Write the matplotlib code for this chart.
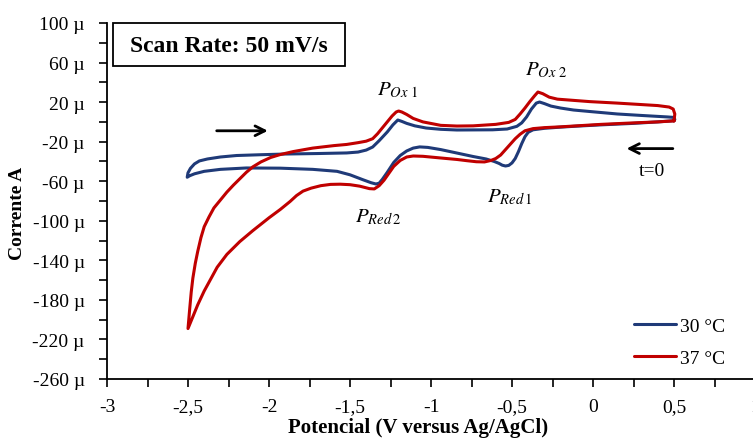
import matplotlib
matplotlib.use("Agg")
import matplotlib.pyplot as plt
from matplotlib.patches import Rectangle
from matplotlib.ticker import MultipleLocator, FixedLocator

plt.rcParams['font.family'] = ['Liberation Serif', 'DejaVu Serif']
plt.rcParams['mathtext.fontset'] = 'stix'

# Cyclic voltammograms; the sweep starts at +0.5 V (t=0) towards negative potentials
E_30 = [0.50, 0.40, 0.25, 0.05, -0.10, -0.20, -0.30, -0.37, -0.40, -0.42, -0.44, -0.46,
        -0.48, -0.50, -0.52, -0.54, -0.56, -0.58, -0.61, -0.66, -0.74, -0.84, -0.94, -1.02,
        -1.07, -1.11, -1.15, -1.19, -1.23, -1.27, -1.30, -1.32, -1.34, -1.37, -1.42, -1.50,
        -1.58, -1.73, -1.93, -2.14, -2.30, -2.40, -2.46, -2.49, -2.505,
        -2.50, -2.485, -2.46, -2.43, -2.38, -2.30, -2.20, -2.05, -1.90, -1.70, -1.52, -1.45,
        -1.40, -1.36, -1.32, -1.27, -1.235, -1.205, -1.18, -1.15, -1.10, -1.03, -0.94, -0.84,
        -0.62, -0.53, -0.47, -0.44, -0.41, -0.38, -0.35, -0.33, -0.30, -0.26, -0.20, -0.12,
        -0.02, 0.15, 0.30, 0.46, 0.50, 0.505, 0.50]
I_30 = [1.2, 0.0, -1.5, -3.0, -4.3, -5.3, -6.5, -8.0, -10.5, -15, -22, -30,
        -37, -41.5, -44, -44.6, -43.8, -42, -40, -37.5, -35, -31.5, -28, -25.8,
        -25.3, -26.5, -29.4, -34, -41, -51, -58, -62, -62.8, -61.5, -58.5, -53.5,
        -50, -48, -46.8, -46.6, -48, -50, -52.5, -54.5, -56,
        -51.5, -47, -42.5, -39.5, -37.5, -35.5, -34, -33.2, -32.5, -32, -31.4, -30.5,
        -28.5, -25.4, -19, -10.2, -3, 1.9, 0.5, -1.5, -4, -6.2, -7.5, -8.2,
        -8, -7.2, -4.5, -1, 5, 13, 19, 20.1, 18.5, 16, 14, 12,
        10.5, 8, 6.5, 5, 4.5, 2.5, 1.2]

E_37 = [0.50, 0.40, 0.25, 0.05, -0.10, -0.20, -0.30, -0.37, -0.42, -0.45, -0.48, -0.51,
        -0.54, -0.57, -0.60, -0.63, -0.67, -0.72, -0.78, -0.84, -0.94, -1.05, -1.11, -1.15,
        -1.19, -1.23, -1.26, -1.29, -1.32, -1.35, -1.38, -1.44, -1.50, -1.56, -1.62, -1.68,
        -1.74, -1.79, -1.83, -1.87, -1.93, -2.00, -2.10, -2.18, -2.26, -2.32, -2.36, -2.40,
        -2.44, -2.47, -2.50,
        -2.49, -2.48, -2.47, -2.455, -2.44, -2.42, -2.40, -2.37, -2.34, -2.30, -2.26, -2.22,
        -2.18, -2.14, -2.10, -2.05, -1.99, -1.93, -1.85, -1.73, -1.60, -1.52, -1.45, -1.40,
        -1.36, -1.33, -1.30, -1.27, -1.24, -1.215, -1.20, -1.18, -1.15, -1.11, -1.05, -0.94,
        -0.84, -0.74, -0.60, -0.52, -0.48, -0.45, -0.42, -0.39, -0.36, -0.34, -0.31, -0.27,
        -0.22, -0.10, -0.02, 0.15, 0.25, 0.40, 0.47, 0.495, 0.505, 0.50]
I_37 = [1.0, 0.0, -1.0, -2.5, -4.0, -5.0, -5.8, -6.8, -9, -12.5, -17, -22.5,
        -28, -33.5, -37, -39, -40.5, -40.3, -39.2, -38, -36.5, -34.8, -34.5, -35.5,
        -39, -45, -52, -59, -64.5, -67.8, -67.5, -65, -63.5, -63, -63.2, -64.5,
        -67, -70, -74.5, -80.5, -88.5, -97, -110, -121, -134, -147, -159, -171,
        -185, -197, -209,
        -190, -172, -158, -143, -131, -117, -106, -96, -87, -79, -71, -64,
        -57.5, -51, -45.5, -40.5, -36, -33, -30, -26.5, -24, -22.8, -21, -19.5,
        -17, -12, -6, 0, 6, 10, 11, 10, 7.5, 3.5, 0, -3.5,
        -4.2, -4, -2.5, -0.5, 2.5, 8, 14, 20.5, 26.5, 30.2, 28.5, 25,
        23, 21.5, 20.5, 19, 18, 16.5, 15, 13, 8, 1.0]

series_labels = ["30 °C", "37 °C"]
series_colors = ["#1f3a78", "#c00000"]

x_ticks = [-3, -2.5, -2, -1.5, -1, -0.5, 0, 0.5, 1]
x_ticklabels = ["-3", "-2,5", "-2", "-1,5", "-1", "-0,5", "0", "0,5", "1"]
y_ticks = [100, 60, 20, -20, -60, -100, -140, -180, -220, -260]
y_ticklabels = [f"{v} \u00b5" for v in y_ticks]

W, H = 753, 439
fig = plt.figure(figsize=(W / 100, H / 100), dpi=100)
ax = fig.add_axes([107 / W, (H - 380) / H, 648 / W, 356 / H])

for E, I, lab, col in ((E_30, I_30, series_labels[0], series_colors[0]),
                       (E_37, I_37, series_labels[1], series_colors[1])):
    ax.plot(E, I, color=col, lw=2.2, label=lab, solid_joinstyle='round',
            solid_capstyle='round')

ax.set_xlim(-3, 1)
ax.set_ylim(-260, 100)
ax.xaxis.set_major_locator(FixedLocator(x_ticks))
ax.set_xticklabels(x_ticklabels)
ax.xaxis.set_minor_locator(MultipleLocator(0.25))
ax.yaxis.set_major_locator(FixedLocator(y_ticks))
ax.set_yticklabels(y_ticklabels)
ax.yaxis.set_minor_locator(MultipleLocator(20))

for s in ("top", "right"):
    ax.spines[s].set_visible(False)
for s in ("left", "bottom"):
    ax.spines[s].set_linewidth(1.3)
ax.tick_params(axis="both", which="both", direction="out", length=6, width=1.2,
               labelsize=14)
ax.tick_params(axis="y", which="both", pad=10)
ax.tick_params(axis="x", which="both", pad=8)

fig.text(418 / W, 1 - 428 / H, "Potencial (V versus Ag/AgCl)", ha="center", va="center",
         fontsize=15, fontweight="bold")
fig.text(18 / W, 1 - 213 / H, "Corrente A", ha="center", va="center", rotation=90,
         fontsize=14, fontweight="bold")

# Scan-rate box
fig.patches.append(Rectangle((113 / W, 1 - 67 / H), 232 / W, 43 / H,
                             transform=fig.transFigure, fill=False, ec="black", lw=1.3))
fig.text(229 / W, 1 - 46 / H, "Scan Rate: 50 mV/s", ha="center", va="center",
         fontsize=17, fontweight="bold")

# Peak labels
peak_style = dict(fontsize=15, ha="left", va="baseline")
ax.text(-1.333, 28.2, r"$P_{Ox\ 1}$", **peak_style)
ax.text(-0.420, 48.4, r"$P_{Ox\ 2}$", **peak_style)
ax.text(-0.654, -80.0, r"$P_{Red\,1}$", **peak_style)
ax.text(-1.469, -100.2, r"$P_{Red\,2}$", **peak_style)

# Sweep direction arrows
ax.annotate("", xy=(-1.99, -9), xytext=(-2.34, -9),
            arrowprops=dict(arrowstyle="->,head_length=0.7,head_width=0.35", lw=2, color="black"))
ax.annotate("", xy=(0.19, -27), xytext=(0.51, -27),
            arrowprops=dict(arrowstyle="->,head_length=0.7,head_width=0.35", lw=2, color="black"))
ax.text(0.364, -49.6, "t=0", fontsize=14, ha="center", va="center")

ax.legend(loc="center left", bbox_to_anchor=((634 - 107) / 648, (380 - 343) / 356),
          frameon=False, fontsize=14, handlelength=2.15, handletextpad=0.2,
          labelspacing=0.75, borderpad=0, borderaxespad=0)

fig.savefig("out.png", dpi=100)
